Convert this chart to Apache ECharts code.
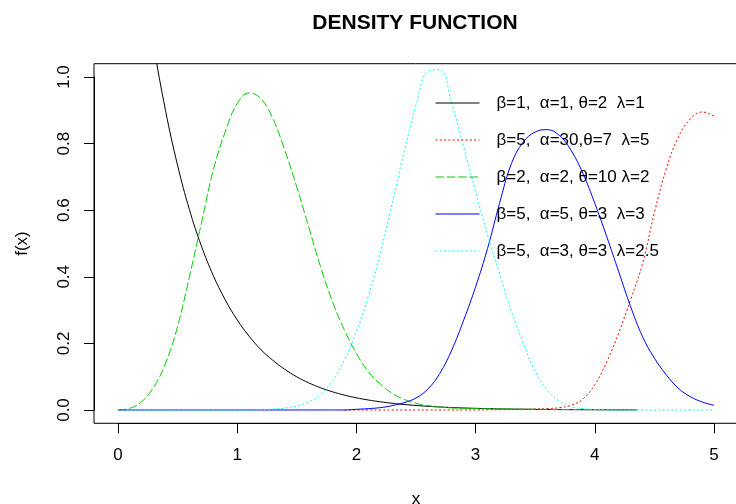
<!DOCTYPE html>
<html>
<head>
<meta charset="utf-8">
<script src="https://cdn.jsdelivr.net/npm/echarts@6/dist/echarts.min.js"></script>
<style>
html,body{margin:0;padding:0;background:#fff;}
#c{width:736px;height:504px;}
</style>
</head>
<body>
<div id="c"></div>
<script>
// ---- data ----
const xValues = [0.0,0.1,0.2,0.3,0.4,0.5,0.6,0.7,0.8,0.9,1.0,1.1,1.2,1.3,1.4,1.5,1.6,1.7,1.8,1.9,
  2.0,2.1,2.2,2.3,2.4,2.5,2.6,2.7,2.8,2.9,3.0,3.1,3.2,3.3,3.4,3.5,3.6,3.7,3.8,3.9,
  4.0,4.1,4.2,4.3,4.4,4.5,4.6,4.7,4.8,4.9,5.0];
const xShortEnd = 4.35;   // black and green curves stop here
const xRedStart = 1.9;    // red curve starts here

const seriesNames = [
  'β=1,  α=1, θ=2  λ=1',
  'β=5,  α=30,θ=7  λ=5',
  'β=2,  α=2, θ=10 λ=2',
  'β=5,  α=5, θ=3  λ=3',
  'β=5,  α=3, θ=3  λ=2.5'
];

// black: x = 0 .. 4.3 then 4.35
const blackY = [2.0,1.637,1.341,1.098,0.899,0.736,0.602,0.493,0.404,0.331,0.271,0.222,0.181,0.149,0.122,
  0.0996,0.0815,0.0667,0.0546,0.0447,0.0366,0.030,0.0246,0.0201,0.0165,0.0135,0.011,0.009,0.0074,0.006,
  0.005,0.0041,0.0033,0.0027,0.0022,0.0018,0.0015,0.0012,0.001,0.0008,0.0007,0.0005,0.0004,0.0004,0.0003];

// red: x = 1.9 .. 5.0
const redY = [0,0,0,0,0,0,0,0,0,0,0,0,0.0005,0.001,0.0015,0.002,0.003,0.004,0.007,0.014,0.033,
  0.076,0.145,0.232,0.332,0.44,0.594,0.726,0.82,0.874,0.895,0.882];

// green: x = 0 .. 4.3 then 4.35
const greenY = [0,0.005,0.025,0.068,0.14,0.25,0.40,0.56,0.72,0.835,0.92,0.952,0.935,0.875,0.78,0.67,
  0.55,0.43,0.325,0.24,0.17,0.115,0.078,0.05,0.032,0.02,0.013,0.009,0.006,0.005,0.004,0.0035,0.003,
  0.0027,0.0024,0.002,0.0018,0.0016,0.0014,0.0012,0.001,0.0009,0.0008,0.0007,0.0007];

// blue: x = 0 .. 5.0
const blueY = [0,0,0,0,0,0,0,0,0,0,0,0,0,0,0,0,0,0,0,0,
  0.002,0.004,0.007,0.013,0.022,0.036,0.063,0.11,0.18,0.27,0.37,0.485,0.62,0.74,0.805,0.835,0.842,
  0.825,0.78,0.71,0.62,0.52,0.415,0.31,0.22,0.155,0.105,0.065,0.04,0.024,0.014];

// cyan: x = 0 .. 5.0
const cyanY = [0,0,0,0,0,0,0,0,0,0,0,0,0.001,0.003,0.006,0.012,0.024,0.046,0.088,0.15,
  0.235,0.34,0.47,0.62,0.775,0.915,1.017,1.022,0.92,0.79,0.655,0.525,0.41,0.295,0.20,0.115,0.06,
  0.027,0.01,0.004,0.0015,0.0005,0,0,0,0,0,0,0,0,0];

const xTicks = [0,1,2,3,4,5];
const yTicks = [0.0,0.2,0.4,0.6,0.8,1.0];

// ---- build ----
function pairs(xs, ys){ return ys.map((y,i)=>[xs[i], y]); }
const xShort = xValues.filter(v => v < xShortEnd - 0.01).concat([xShortEnd]);
const xRed = xValues.filter(v => v >= xRedStart - 1e-9);

const FONT = '"Liberation Sans", Arial, sans-serif';
const colors = ['#000000','#FF0000','#00CD00','#0000FF','#00FFFF'];
const dashes = ['solid',[2,2.3],[8.5,2.8],'solid',[2,2.3]];
const datas = [
  pairs(xShort, blackY),
  pairs(xRed, redY),
  pairs(xShort, greenY),
  pairs(xValues, blueY),
  pairs(xValues, cyanY)
];

const series = seriesNames.map((n,i)=>({
  name: n,
  type: 'line',
  xAxisIndex: 0,
  yAxisIndex: 0,
  data: datas[i],
  symbol: 'none',
  showSymbol: false,
  smooth: 0.4,
  clip: true,
  color: colors[i],
  lineStyle: {color: colors[i], width: 1, type: dashes[i]},
  emphasis: {disabled: true},
  animation: false
}));

const chart = echarts.init(document.getElementById('c'), null, {renderer: 'canvas'});
chart.setOption({
  animation: false,
  backgroundColor: '#ffffff',
  title: {
    text: 'DENSITY FUNCTION',
    left: 410, top: 8, textAlign: 'center',
    textStyle: {fontSize: 21, fontWeight: 'bold', color: '#000', fontFamily: FONT}
  },
  legend: {
    orient: 'vertical',
    left: 430, top: 88,
    itemWidth: 44, itemHeight: 14, itemGap: 17,
    selectedMode: false,
    data: seriesNames,
    itemStyle: {opacity: 0},
    lineStyle: {width: 1},
    textStyle: {fontSize: 17, color: '#000', fontFamily: FONT, lineHeight: 20, padding: [0,0,0,12]}
  },
  grid: [
    {left: 94, width: 644, top: 63.7, bottom: 80.7, show: true, borderColor: '#000', borderWidth: 1,
     backgroundColor: 'transparent', containLabel: false, outerBoundsMode: 'none'},
    {left: 118, right: 22, top: 77, bottom: 94, show: false, containLabel: false, outerBoundsMode: 'none'}
  ],
  xAxis: [
    {gridIndex: 0, type: 'value', min: -0.2, max: 5.2, show: false},
    {
      gridIndex: 1, type: 'value', min: xTicks[0], max: xTicks[xTicks.length-1], interval: 1,
      position: 'bottom', offset: 13.3,
      axisLine: {show: true, onZero: false, lineStyle: {color: '#000', width: 1}},
      axisTick: {show: true, inside: false, length: 10, lineStyle: {color: '#000', width: 1}},
      axisLabel: {margin: 24, color: '#000', fontSize: 17, fontFamily: FONT},
      splitLine: {show: false},
      name: 'x', nameLocation: 'middle', nameGap: 68,
      nameTextStyle: {fontSize: 17, color: '#000', fontFamily: FONT}
    }
  ],
  yAxis: [
    {gridIndex: 0, type: 'value', min: -0.04, max: 1.04, show: false},
    {
      gridIndex: 1, type: 'value', min: yTicks[0], max: yTicks[yTicks.length-1], interval: 0.2,
      position: 'left', offset: 24,
      axisLine: {show: true, onZero: false, lineStyle: {color: '#000', width: 1}},
      axisTick: {show: true, inside: false, length: 10, lineStyle: {color: '#000', width: 1}},
      axisLabel: {rotate: 90, margin: 21, color: '#000', fontSize: 17, fontFamily: FONT,
                  formatter: v => v.toFixed(1)},
      splitLine: {show: false},
      name: 'f(x)', nameLocation: 'middle', nameGap: 63, nameRotate: 90,
      nameTextStyle: {fontSize: 17, color: '#000', fontFamily: FONT}
    }
  ],
  series: series
});
</script>
</body>
</html>
